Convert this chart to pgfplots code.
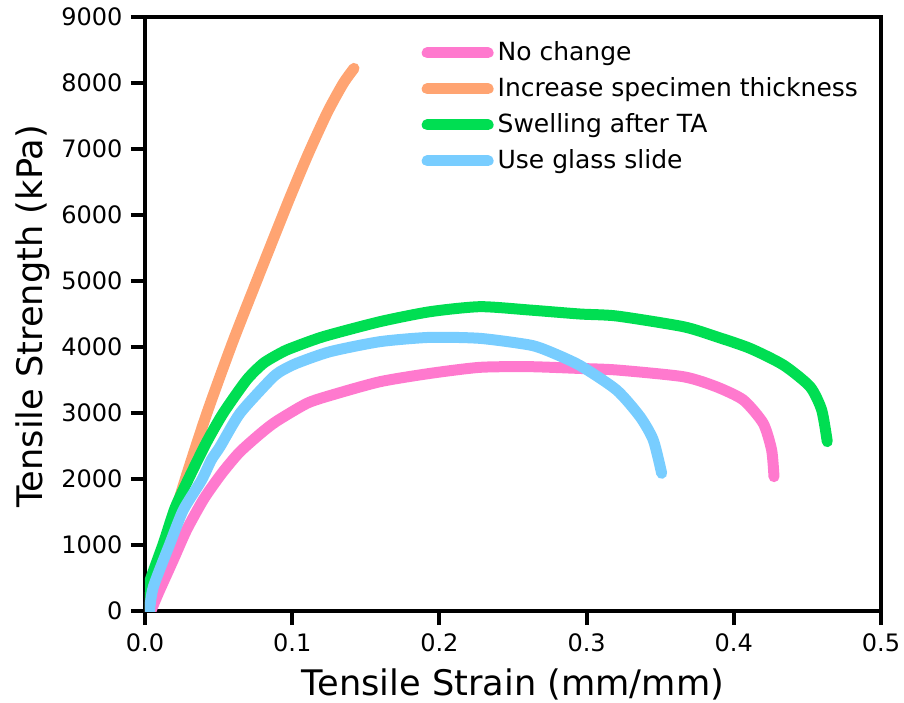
\documentclass[border=0pt]{standalone}
\usepackage{pgfplots}
\pgfplotsset{compat=1.18}
\usepackage{fontspec}
\setmainfont{DejaVu Sans}
\definecolor{cpink}{RGB}{255,121,206}
\definecolor{corange}{RGB}{255,164,114}
\definecolor{cgreen}{RGB}{0,222,82}
\definecolor{cblue}{RGB}{120,205,255}
\begin{document}
\begin{tikzpicture}
\begin{axis}[
  scale only axis, width=368pt, height=297pt,
  line width=2pt,
  xmin=0, xmax=0.5, ymin=0, ymax=9000,
  xtick={0,0.1,0.2,0.3,0.4,0.5},
  ytick={0,1000,2000,3000,4000,5000,6000,7000,8000,9000},
  xticklabel style={/pgf/number format/.cd, fixed, fixed zerofill, precision=1},
  /pgf/number format/1000 sep={},
  /pgf/number format/assume math mode=true,
  tick label style={font=\fontsize{12}{14}\selectfont},
  tick align=outside, xtick pos=bottom, ytick pos=left,
  major tick length=7pt,
  tick style={black, line width=2pt},
  axis line style={line width=2pt},
  xlabel={Tensile Strain (mm/mm)},
  ylabel={Tensile Strength (kPa)},
  label style={font=\fontsize{17.6}{21}\selectfont},
  xlabel style={at={(axis description cs:0.5,0)}, anchor=center, yshift=-36.6pt},
  ylabel style={at={(axis description cs:-0.152,0.496)}, anchor=center},
  legend style={draw=none, fill=none, at={(axis description cs:0.365,0.975)}, anchor=north west,
    font=\fontsize{12.5}{15}\selectfont, row sep=3pt},
  legend cell align=left,
  legend image code/.code={\draw[#1, line width=5pt, line cap=round] (2.5pt,0pt) -- (19.5pt,0pt); \path (0pt,0pt) -- (30.5pt,0pt);},
  every axis plot/.append style={line width=5.5pt, line cap=round, line join=round},
]
\addplot[cpink, smooth, tension=0.4] coordinates {
(0.004,0) (0.009,268) (0.0192,773) (0.0283,1230) (0.040,1700) (0.052,2080)
(0.064,2400) (0.078,2680) (0.089,2870) (0.110,3146) (0.127,3273) (0.1596,3474)
(0.1936,3600) (0.2276,3692) (0.2615,3702) (0.2955,3675) (0.3204,3652) (0.3657,3550)
(0.388,3399) (0.4065,3197) (0.420,2843) (0.4257,2439) (0.4273,2035)};
\addlegendentry{No change}
\addplot[corange, smooth, tension=0.4] coordinates {
(0,0) (0.010,730) (0.0272,1985) (0.042,2995) (0.060,4100) (0.0815,5318)
(0.098,6240) (0.111,6930) (0.124,7560) (0.1347,7995) (0.142,8222)};
\addlegendentry{Increase specimen thickness}
\addplot[cgreen, smooth, tension=0.4] coordinates {
(0.0005,100) (0.002,368) (0.0125,1025) (0.0204,1560) (0.0306,2050) (0.0419,2560)
(0.0532,3000) (0.069,3500) (0.0804,3753) (0.0917,3904) (0.0985,3975) (0.121,4156)
(0.1596,4384) (0.1936,4535) (0.2276,4611) (0.2615,4560) (0.2955,4500) (0.3204,4470)
(0.3657,4308) (0.388,4157) (0.411,3980) (0.4337,3727) (0.4518,3399) (0.4597,3045)
(0.4635,2566)};
\addlegendentry{Swelling after TA}
\addplot[cblue, smooth, tension=0.4] coordinates {
(0.003,0) (0.0057,368) (0.017,1025) (0.026,1530) (0.0385,1985) (0.045,2288)
(0.051,2490) (0.0645,2995) (0.085,3500) (0.0917,3626) (0.103,3753) (0.1257,3929)
(0.1596,4081) (0.1936,4146) (0.2276,4131) (0.2615,4030) (0.2751,3929) (0.2955,3720)
(0.3204,3348) (0.3363,2944) (0.3453,2591) (0.351,2086)};
\addlegendentry{Use glass slide}
\end{axis}
\pgfresetboundingbox
\path[use as bounding box] (-72.5pt,-45.5pt) rectangle (379.5pt,305.5pt);
\end{tikzpicture}
\end{document}
